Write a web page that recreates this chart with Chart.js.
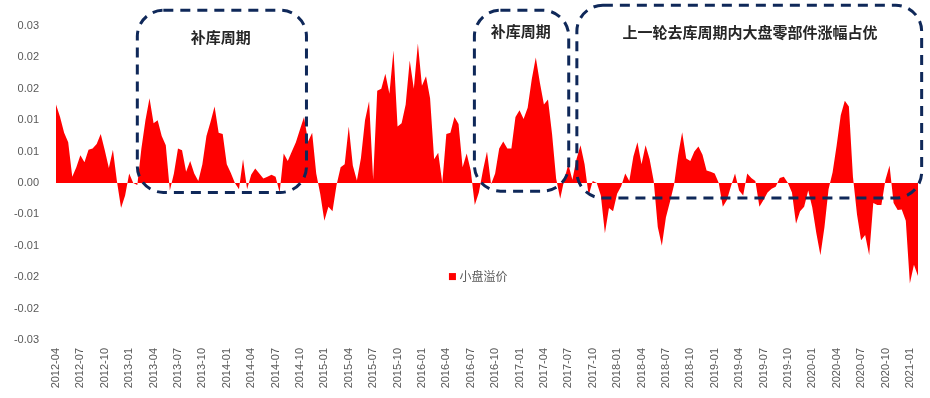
<!DOCTYPE html>
<html>
<head>
<meta charset="utf-8">
<script src="https://cdn.jsdelivr.net/npm/chart.js@4.4.1/dist/chart.umd.min.js"></script>
<style>
    html, body { margin: 0; padding: 0; background: #fff; }
    #wrap { position: relative; width: 930px; height: 398px; }
</style>
</head>
<body>
<div id="wrap"><canvas id="premiumChart"></canvas></div>
<script>
// 小盘溢价, sampled twice a month (1st / 16th) from 2012-04 to 2021-02
const seriesName = '小盘溢价';
const firstYear = 2012;
const firstMonth = 4;

const premium = [
    0.0125, 0.0105, 0.0080, 0.0065, 0.0010, 0.0025, 0.0044, 0.0033, 0.0053, 0.0055,
    0.0062, 0.0078, 0.0052, 0.0024, 0.0053, 0.0002, -0.0040, -0.0020, 0.0015, 0.0000,
    -0.0003, 0.0055, 0.0100, 0.0135, 0.0095, 0.0100, 0.0075, 0.0060, -0.0012, 0.0015,
    0.0055, 0.0052, 0.0018, 0.0035, 0.0015, 0.0003, 0.0030, 0.0075, 0.0097, 0.0122,
    0.0080, 0.0078, 0.0030, 0.0016, 0.0000, -0.0010, 0.0038, -0.0010, 0.0013, 0.0023,
    0.0015, 0.0007, 0.0010, 0.0013, 0.0010, -0.0015, 0.0047, 0.0035, 0.0050, 0.0065,
    0.0085, 0.0105, 0.0066, 0.0080, 0.0015, -0.0018, -0.0060, -0.0038, -0.0045, -0.0003,
    0.0025, 0.0030, 0.0090, 0.0028, 0.0004, 0.0040, 0.0100, 0.0130, 0.0005, 0.0147,
    0.0150, 0.0174, 0.0142, 0.0211, 0.0090, 0.0095, 0.0125, 0.0195, 0.0150, 0.0222,
    0.0155, 0.0170, 0.0135, 0.0038, 0.0048, 0.0000, 0.0078, 0.0080, 0.0105, 0.0094,
    0.0025, 0.0047, 0.0020, -0.0035, -0.0015, 0.0020, 0.0050, -0.0002, 0.0015, 0.0055,
    0.0066, 0.0055, 0.0055, 0.0105, 0.0116, 0.0102, 0.0120, 0.0165, 0.0200, 0.0160,
    0.0125, 0.0133, 0.0078, 0.0007, -0.0025, 0.0005, 0.0030, 0.0005, 0.0038, 0.0060,
    0.0030, -0.0020, 0.0003, 0.0000, -0.0020, -0.0080, -0.0040, -0.0045, -0.0017, -0.0005,
    0.0015, 0.0003, 0.0042, 0.0065, 0.0030, 0.0060, 0.0038, 0.0003, -0.0070, -0.0100,
    -0.0055, -0.0030, -0.0003, 0.0044, 0.0081, 0.0039, 0.0035, 0.0050, 0.0058, 0.0045,
    0.0020, 0.0018, 0.0015, 0.0000, -0.0038, -0.0027, -0.0005, 0.0015, -0.0012, -0.0020,
    0.0015, 0.0008, 0.0003, -0.0038, -0.0027, -0.0015, -0.0009, -0.0006, 0.0008, 0.0010,
    0.0000, -0.0015, -0.0065, -0.0045, -0.0038, -0.0012, -0.0039, -0.0080, -0.0115, -0.0070,
    -0.0010, 0.0017, 0.0060, 0.0108, 0.0131, 0.0122, 0.0010, -0.0050, -0.0091, -0.0083,
    -0.0115, -0.0032, -0.0035, -0.0035, 0.0005, 0.0028, -0.0032, -0.0043, -0.0042, -0.0060,
    -0.0160, -0.0130, -0.0148
];

// y ticks run -0.025 .. 0.025 in steps of 0.005, printed with two decimals
const yTickLabels = ['-0.03', '-0.02', '-0.02', '-0.01', '-0.01', '0.00', '0.01', '0.01', '0.02', '0.02', '0.03'];
// x axis shows one label per quarter
const xTickMonths = ['01', '04', '07', '10'];

// dashed callouts, x in half-month steps from the first point, y in series units
const callouts = [
    { from: 20, to: 61.6, top: 0.0275, bottom: -0.0015, text: '补库周期', tx: 40.5, ty: 0.0232 },
    { from: 102.9, to: 126.1, top: 0.0275, bottom: -0.0013, text: '补库周期', tx: 114.3, ty: 0.0242 },
    { from: 128.1, to: 212.9, top: 0.0283, bottom: -0.0024, text: '上一轮去库周期内大盘零部件涨幅占优', tx: 170.7, ty: 0.0240 }
];
const legendAt = { x: 97.5, y: -0.0149 };

function pad(n) {
    return n < 10 ? '0' + n : '' + n;
}

const labels = [];
for (let i = 0; i < premium.length; i++) {
    const m = firstMonth - 1 + Math.floor(i / 2);
    const y = firstYear + Math.floor(m / 12);
    labels.push(y + '-' + pad(m % 12 + 1) + (i % 2 === 0 ? '-01' : '-16'));
}

function roundedPath(ctx, x0, y0, x1, y1, r) {
    ctx.beginPath();
    ctx.moveTo(x0 + r, y0);
    ctx.lineTo(x1 - r, y0);
    ctx.arcTo(x1, y0, x1, y0 + r, r);
    ctx.lineTo(x1, y1 - r);
    ctx.arcTo(x1, y1, x1 - r, y1, r);
    ctx.lineTo(x0 + r, y1);
    ctx.arcTo(x0, y1, x0, y1 - r, r);
    ctx.lineTo(x0, y0 + r);
    ctx.arcTo(x0, y0, x0 + r, y0, r);
    ctx.closePath();
}

const calloutPlugin = {
    id: 'callouts',
    afterDraw(chart) {
        const ctx = chart.ctx;
        const xs = chart.scales.x;
        const ys = chart.scales.y;
        ctx.save();
        callouts.forEach(c => {
            const x0 = xs.getPixelForValue(c.from);
            const x1 = xs.getPixelForValue(c.to);
            const y0 = ys.getPixelForValue(c.top);
            const y1 = ys.getPixelForValue(c.bottom);
            ctx.setLineDash([10, 7]);
            ctx.lineWidth = 3;
            ctx.strokeStyle = '#0f2859';
            roundedPath(ctx, x0, y0, x1, y1, 26);
            ctx.stroke();
            ctx.setLineDash([]);
            ctx.fillStyle = '#262626';
            ctx.font = 'bold 15px "Noto Sans CJK SC"';
            ctx.textAlign = 'center';
            ctx.textBaseline = 'middle';
            ctx.fillText(c.text, xs.getPixelForValue(c.tx), ys.getPixelForValue(c.ty));
        });

        // legend swatch sits inside the plot
        const ds = chart.data.datasets[0];
        const lx = xs.getPixelForValue(legendAt.x);
        const ly = ys.getPixelForValue(legendAt.y);
        ctx.fillStyle = ds.backgroundColor;
        ctx.fillRect(lx - 3.5, ly - 3.5, 7, 7);
        ctx.fillStyle = '#595959';
        ctx.font = '12px "Noto Sans CJK SC"';
        ctx.textAlign = 'left';
        ctx.textBaseline = 'middle';
        ctx.fillText(ds.label, lx + 7, ly);
        ctx.restore();
    }
};

new Chart(document.getElementById('premiumChart'), {
    type: 'line',
    data: {
        labels: labels,
        datasets: [{
            label: seriesName,
            data: premium,
            fill: 'origin',
            backgroundColor: '#ff0000',
            borderColor: '#ff0000',
            borderWidth: 0,
            pointRadius: 0,
            tension: 0
        }]
    },
    options: {
        responsive: true,
        maintainAspectRatio: false,
        animation: false,
        layout: { padding: { top: 26, right: 12, left: 0, bottom: 0 } },
        plugins: {
            legend: { display: false },
            tooltip: { enabled: false }
        },
        scales: {
            x: {
                type: 'category',
                offset: false,
                grid: { display: false, drawTicks: false },
                border: { display: false },
                ticks: {
                    autoSkip: false,
                    maxRotation: 90,
                    minRotation: 90,
                    padding: 8,
                    color: '#595959',
                    font: { family: '"Liberation Sans"', size: 11 },
                    callback: function (val) {
                        const lab = this.getLabelForValue(val);
                        const mm = lab.slice(5, 7);
                        return lab.endsWith('-01') && xTickMonths.includes(mm) ? lab.slice(0, 7) : '';
                    }
                },
                afterFit: (scale) => {
                    scale.height = 58;
                    // keep the plot running out to the right padding only
                    scale.paddingLeft = 0;
                    scale.paddingRight = 0;
                }
            },
            y: {
                min: -0.025,
                max: 0.025,
                grid: { display: false, drawTicks: false },
                border: { display: false },
                ticks: {
                    stepSize: 0.005,
                    padding: 17,
                    color: '#595959',
                    font: { family: '"Liberation Sans"', size: 11 },
                    callback: (v, i) => yTickLabels[i]
                },
                afterFit: (scale) => { scale.width = 56; }
            }
        }
    },
    plugins: [calloutPlugin]
});
</script>
</body>
</html>
